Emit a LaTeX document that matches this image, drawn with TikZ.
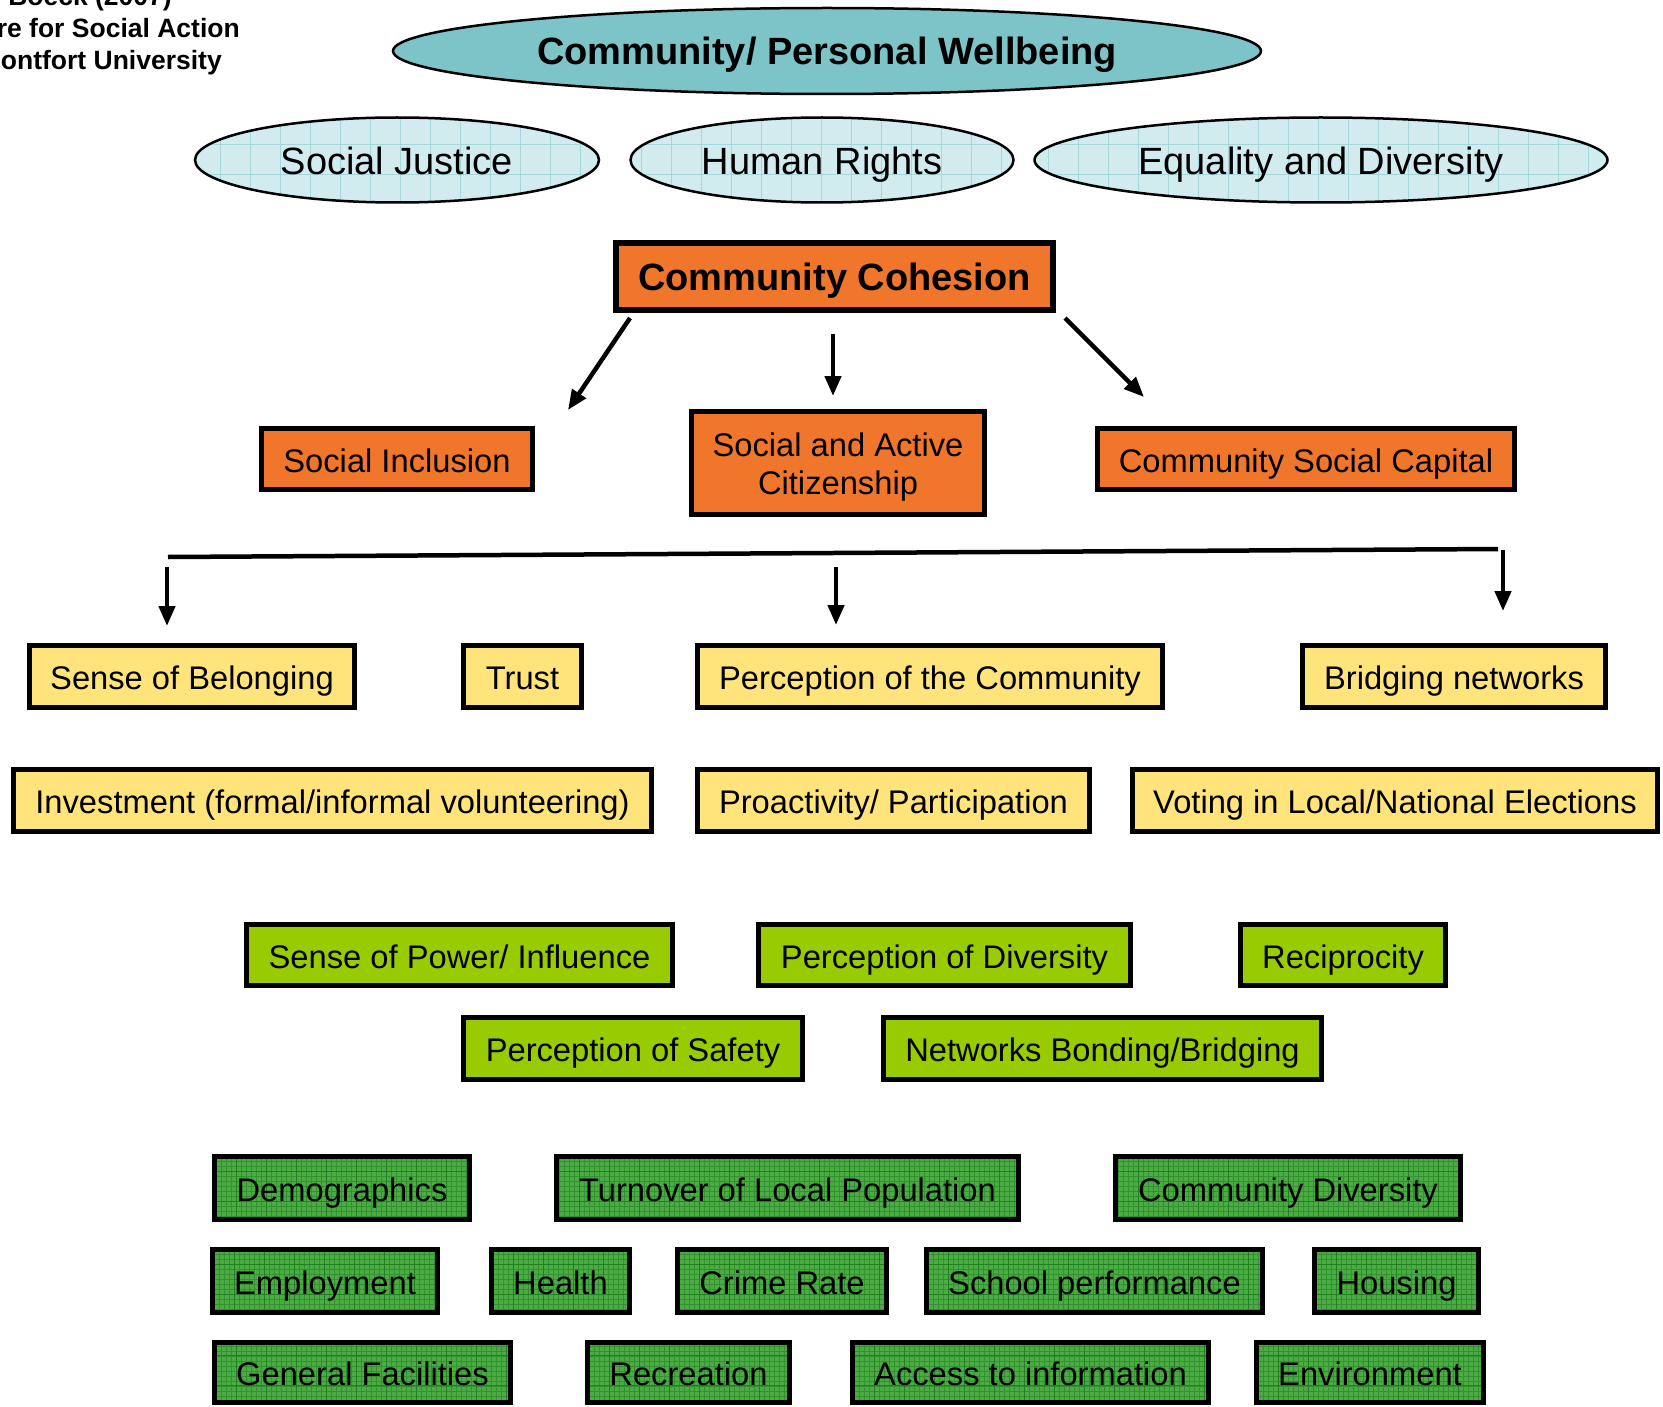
\documentclass[tikz,border=0pt]{standalone}
\usepackage{fontspec}
\setmainfont{Liberation Sans}
\usetikzlibrary{arrows.meta,shapes.geometric}
\definecolor{tealc}{RGB}{125,196,200}
\definecolor{paleblue}{RGB}{210,235,238}
\definecolor{palegrid}{RGB}{165,214,217}
\definecolor{orangec}{RGB}{240,118,44}
\definecolor{yellowc}{RGB}{255,228,124}
\definecolor{limec}{RGB}{153,204,0}
\definecolor{greenc}{RGB}{76,172,68}
\definecolor{greengrid}{RGB}{34,128,34}
\begin{document}
\begin{tikzpicture}[x=1pt,y=-1pt,
  sz/.style 2 args={minimum width=#1-5, minimum height=#2-5},
  box/.style={draw=black, line width=5pt, rectangle, inner sep=0pt, align=center,
    font=\fontsize{32.7}{38}\selectfont},
  tb/.style={text height=26.6pt, text depth=0pt},
  obox/.style={box, tb, fill=orangec},
  ybox/.style={box, tb, fill=yellowc},
  lbox/.style={box, tb, fill=limec},
  gbox/.style={box, tb, fill=greenc, path picture={
     \draw[greengrid!60!greenc, line width=0.4pt]
       ([shift={(-6pt,-6pt)}]path picture bounding box.south west) grid[step=5pt]
       ([shift={(6pt,6pt)}]path picture bounding box.north east);
     \draw[greengrid, line width=1pt]
       ([shift={(-30pt,-30pt)}]path picture bounding box.south west) grid[step=30pt]
       ([shift={(30pt,30pt)}]path picture bounding box.north east);}},
  ell/.style={ellipse, draw=black, line width=2.5pt, inner sep=0pt},
  pell/.style={ell, fill=paleblue, font=\fontsize{38}{42}\selectfont,
     text height=29.2pt, text depth=0pt, path picture={
     \draw[palegrid, line width=1pt]
       ([shift={(-30pt,-30pt)}]path picture bounding box.south west) grid[step=30pt]
       ([shift={(30pt,30pt)}]path picture bounding box.north east);}},
  tl/.style={inner sep=0pt, font=\bfseries\fontsize{26.5}{30}\selectfont},
  arr/.style={line width=4.5pt, -{Triangle[length=20pt,width=16pt]}}
]
\useasboundingbox (0,0) rectangle (1663,1407);
\fill[white] (0,0) rectangle (1663,1407);

% top-left credit (cut off by the page edge, as in the reference)
\node[tl, anchor=base east] (t1) at (172,6) {Boeck (2007)};
\node[tl, anchor=base east] (t2) at (240,38) {re for Social Action};
\node[tl, anchor=base east] (t3) at (222,70) {ontfort University};

% ellipses
\node[ell, fill=tealc, minimum width=868, minimum height=86,
      text height=27.6pt, text depth=0pt,
      font=\bfseries\fontsize{38}{42}\selectfont] (cpw) at (827,51) {Community/ Personal Wellbeing};
\node[pell, minimum width=404, minimum height=85] (sj) at (397,160) {Social Justice};
\node[pell, minimum width=383, minimum height=85] (hr) at (822,160) {Human Rights};
\node[pell, minimum width=573, minimum height=85] (ed) at (1321,160) {Equality and Diversity};

% orange
\node[box, fill=orangec, line width=6pt, minimum width=437, minimum height=67,
      text height=28pt, text depth=0pt,
      font=\bfseries\fontsize{38}{42}\selectfont] (cc) at (834.5,276.5) {Community Cohesion};
\node[obox, sz={276}{66}] (si) at (397,459) {Social Inclusion};
\node[box, fill=orangec, sz={298}{108}] (sac) at (838,463)
  {\raisebox{-4.5pt}[\height][\depth]{\begin{tabular}{@{}c@{}}Social and Active\\Citizenship\end{tabular}}};
\node[obox, sz={422}{66}] (csc) at (1306,459) {Community Social Capital};

% arrows from Community Cohesion
\coordinate (a1s) at (630,318);  \coordinate (a1e) at (568,410);
\coordinate (a2s) at (833,334);  \coordinate (a2e) at (833,396);
\coordinate (a3s) at (1065,318); \coordinate (a3e) at (1144,397);
\draw[arr] (a1s) -- (a1e);
\draw[arr] (a2s) -- (a2e);
\draw[arr] (a3s) -- (a3e);

% bar and down arrows
\coordinate (h1) at (168,557); \coordinate (h2) at (1498,549);
\draw[line width=4.5pt] (h1) -- (h2);
\coordinate (d1s) at (167,567);  \coordinate (d1e) at (167,626);
\coordinate (d2s) at (836,567);  \coordinate (d2e) at (836,625);
\coordinate (d3s) at (1503,550); \coordinate (d3e) at (1503,611);
\draw[arr] (d1s) -- (d1e);
\draw[arr] (d2s) -- (d2e);
\draw[arr] (d3s) -- (d3e);

% yellow
\node[ybox, sz={330}{67}] (sob) at (192,676.5) {Sense of Belonging};
\node[ybox, sz={123}{67}] (tru) at (522.5,676.5) {Trust};
\node[ybox, sz={470}{67}] (poc) at (930,676.5) {Perception of the Community};
\node[ybox, sz={308}{67}] (bn) at (1454,676.5) {Bridging networks};
\node[ybox, sz={643}{67}] (inv) at (332.5,800.5) {Investment (formal/informal volunteering)};
\node[ybox, sz={397}{67}] (pro) at (893.5,800.5) {Proactivity/ Participation};
\node[ybox, sz={530}{67}] (vot) at (1395,800.5) {Voting in Local/National Elections};

% lime
\node[lbox, sz={431}{66}] (sop) at (459.5,955) {Sense of Power/ Influence};
\node[lbox, sz={377}{66}] (pod) at (944.5,955) {Perception of Diversity};
\node[lbox, sz={210}{66}] (rcp) at (1343,955) {Reciprocity};
\node[lbox, sz={344}{67}] (pos) at (633,1048.5) {Perception of Safety};
\node[lbox, sz={443}{67}] (nbb) at (1102.5,1048.5) {Networks Bonding/Bridging};

% green
\node[gbox, sz={260}{68}] (dem) at (342,1188) {Demographics};
\node[gbox, sz={467}{68}] (tur) at (787.5,1188) {Turnover of Local Population};
\node[gbox, sz={350}{68}] (cdv) at (1288,1188) {Community Diversity};
\node[gbox, sz={230}{68}] (emp) at (325,1281) {Employment};
\node[gbox, sz={143}{68}] (hea) at (560.5,1281) {Health};
\node[gbox, sz={214}{68}] (cri) at (782,1281) {Crime Rate};
\node[gbox, sz={341}{68}] (sch) at (1094.5,1281) {School performance};
\node[gbox, sz={169}{68}] (hou) at (1396.5,1281) {Housing};
\node[gbox, sz={301}{65}] (gfa) at (362.5,1372.5) {General Facilities};
\node[gbox, sz={207}{65}] (rcr) at (688.5,1372.5) {Recreation};
\node[gbox, sz={361}{65}] (acc) at (1030.5,1372.5) {Access to information};
\node[gbox, sz={232}{65}] (env) at (1370,1372.5) {Environment};
\end{tikzpicture}
\end{document}
